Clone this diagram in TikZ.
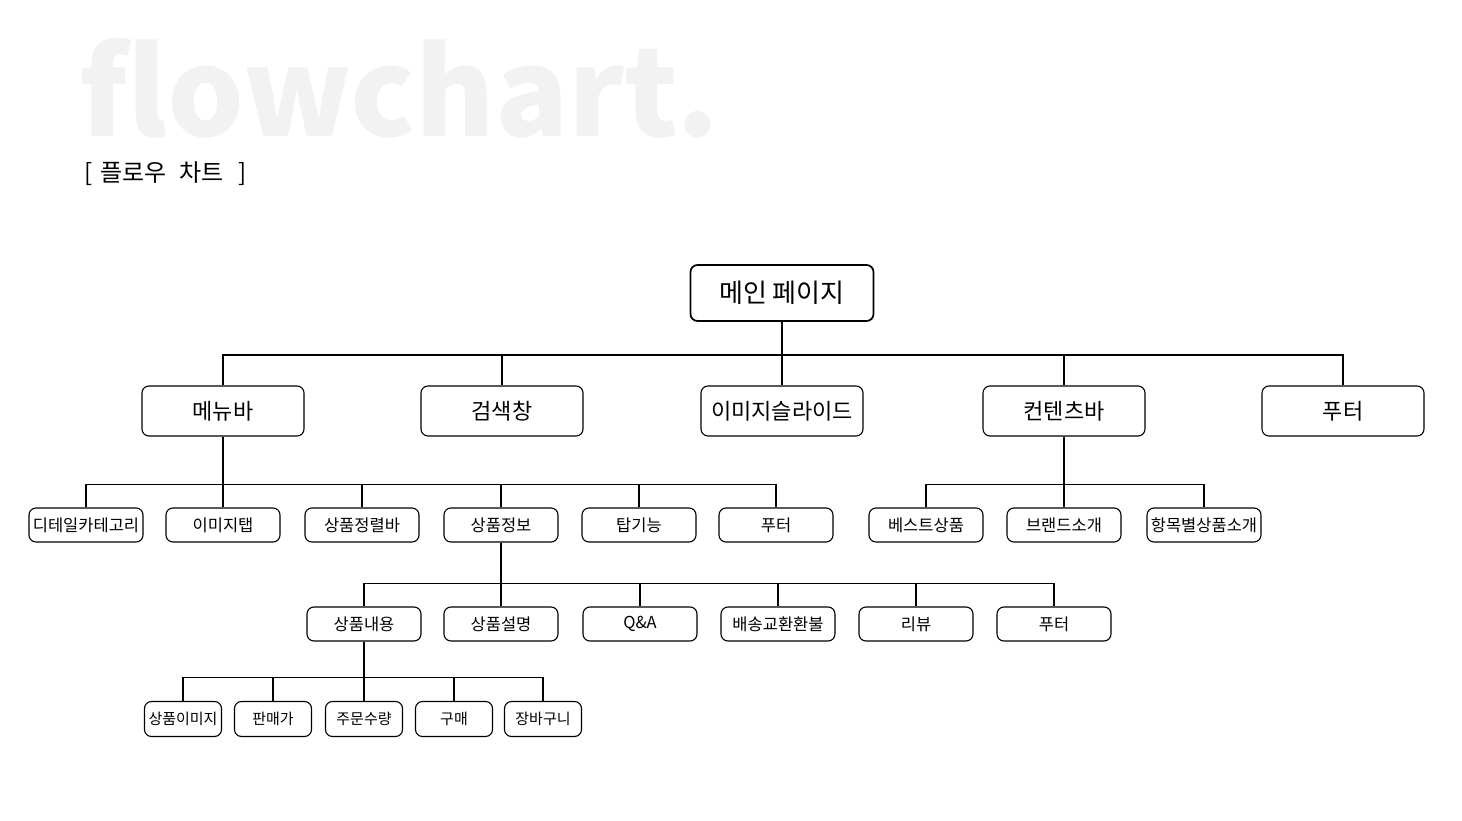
\documentclass[tikz,border=0pt]{standalone}
\usepackage{fontspec}
\setmainfont{Noto Sans CJK KR}
\usepackage{tikz}
\definecolor{ghost}{HTML}{F2F2F2}
\tikzset{
	treenode/.style = {shape=rectangle, rounded corners=7pt,
		draw, align=center, line width=1.1pt, inner sep=0pt},
	rootbox/.style  = {treenode, line width=1.7pt, minimum width=183pt,
		minimum height=56pt, font=\fontsize{26}{30}\selectfont},
	sectbox/.style  = {treenode, minimum width=162pt, minimum height=50pt,
		font=\fontsize{22}{26}\selectfont},
	itembox/.style  = {treenode, minimum width=114pt, minimum height=34pt,
		font=\fontsize{16.5}{19}\selectfont},
	leafbox/.style  = {treenode, minimum width=77pt, minimum height=35pt,
		font=\fontsize{15}{18}\selectfont},
	link/.style     = {draw, line width=1.3pt}
}

\begin{document}
\begin{tikzpicture}
	[
	x = 1pt,
	y = -1pt
	]
	\fill [white] (0,0) rectangle (1462,821);
	\useasboundingbox (0,0) rectangle (1462,821);
	% titles
	\node (title) [anchor=base west, inner sep=0pt, text=ghost,
		font=\fontsize{121}{121}\selectfont\bfseries] at (79,137) {flowchart.};
	\node (subtitle) [anchor=west, inner sep=0pt,
		font=\fontsize{24}{28}\selectfont] at (84,174)
		{[\hspace{8pt}플로우\hspace{13pt}차트\hspace{15pt}]};
	% main page
	\node (main) [rootbox] at (782,293) {메인 페이지};
	\node (menubar) [sectbox] at (223,411) {메뉴바};
	\node (search)  [sectbox] at (502,411) {검색창};
	\node (slide)   [sectbox] at (782,411) {이미지슬라이드};
	\node (content) [sectbox] at (1064,411) {컨텐츠바};
	\node (footer)  [sectbox] at (1343,411) {푸터};
	% menu bar
	\node (detail)   [itembox] at (86,525) {디테일카테고리};
	\node (imgtab)   [itembox] at (223,525) {이미지탭};
	\node (sortbar)  [itembox] at (362,525) {상품정렬바};
	\node (info)     [itembox] at (501,525) {상품정보};
	\node (topfn)    [itembox] at (639,525) {탑기능};
	\node (menufoot) [itembox] at (776,525) {푸터};
	% contents bar
	\node (best)    [itembox] at (926,525) {베스트상품};
	\node (brand)   [itembox] at (1064,525) {브랜드소개};
	\node (catalog) [itembox] at (1204,525) {항목별상품소개};
	% product info
	\node (goods)    [itembox] at (364,624) {상품내용};
	\node (desc)     [itembox] at (501,624) {상품설명};
	\node (qna)      [itembox] at (640,624) {Q\&A};
	\node (ship)     [itembox] at (778,624) {배송교환환불};
	\node (review)   [itembox] at (916,624) {리뷰};
	\node (infofoot) [itembox] at (1054,624) {푸터};
	% product contents
	\node (gimg)  [leafbox] at (183,719) {상품이미지};
	\node (price) [leafbox] at (273,719) {판매가};
	\node (qty)   [leafbox] at (364,719) {주문수량};
	\node (buy)   [leafbox] at (454,719) {구매};
	\node (cart)  [leafbox] at (543,719) {장바구니};
	% connectors
	\foreach \c in {menubar,search,slide,content,footer}
		\draw [link] (main.south) -- ++(0,33) -| (\c.north);
	\foreach \c in {detail,imgtab,sortbar,info,topfn,menufoot}
		\draw [link] (menubar.south) -- ++(0,48) -| (\c.north);
	\foreach \c in {best,brand,catalog}
		\draw [link] (content.south) -- ++(0,48) -| (\c.north);
	\foreach \c in {goods,desc,qna,ship,review,infofoot}
		\draw [link] (info.south) -- ++(0,41) -| (\c.north);
	\foreach \c in {gimg,price,qty,buy,cart}
		\draw [link] (goods.south) -- ++(0,36) -| (\c.north);
\end{tikzpicture}
\end{document}
